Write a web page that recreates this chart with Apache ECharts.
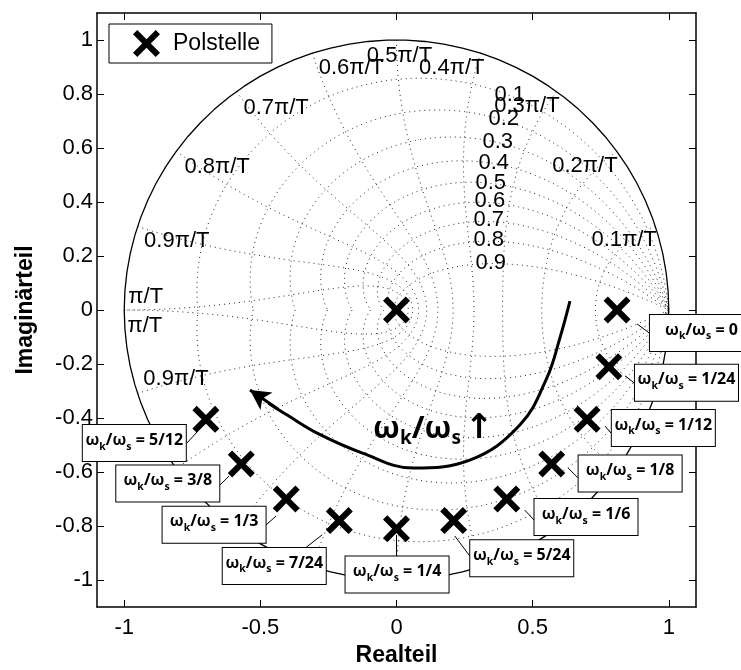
<!DOCTYPE html>
<html><head><meta charset="utf-8">
<script src="https://cdn.jsdelivr.net/npm/echarts@6/dist/echarts.min.js"></script>
<style>html,body{margin:0;padding:0;background:#fff}#c{width:741px;height:670px}</style>
</head><body><div id="c"></div><script>
// ---- axis ticks ----
const xTicks = [-1, -0.5, 0, 0.5, 1];
const yTicks = [-1, -0.8, -0.6, -0.4, -0.2, 0, 0.2, 0.4, 0.6, 0.8, 1];
// ---- poles (Polstelle) ----
const poleRe = [0.81, 0.78, 0.70, 0.57, 0.405, 0.21, 0, -0.21, -0.405, -0.57, -0.70, 0];
const poleIm = [0, -0.21, -0.405, -0.57, -0.70, -0.78, -0.81, -0.78, -0.70, -0.57, -0.405, 0];
const ratioLabels = ['0', '1/24', '1/12', '1/8', '1/6', '5/24', '1/4', '7/24', '1/3', '3/8', '5/12'];
// ---- zgrid parameters ----
const zetaValues = [0.1, 0.2, 0.3, 0.4, 0.5, 0.6, 0.7, 0.8, 0.9];
const wnValues = [0.1, 0.2, 0.3, 0.4, 0.5, 0.6, 0.7, 0.8, 0.9, 1.0]; // x pi/T
const zetaLabels = ['0.1', '0.2', '0.3', '0.4', '0.5', '0.6', '0.7', '0.8', '0.9'];
const wnLabels = ['0.1π/T', '0.2π/T', '0.3π/T', '0.4π/T', '0.5π/T', '0.6π/T', '0.7π/T', '0.8π/T', '0.9π/T', 'π/T', 'π/T', '0.9π/T'];
// ---- hand-drawn arrow curve ----
const arrowRe = [0.637, 0.60, 0.552, 0.453, 0.269, 0.06, -0.125, -0.284, -0.40, -0.47];
const arrowIm = [0.033, -0.104, -0.252, -0.426, -0.556, -0.585, -0.53, -0.46, -0.39, -0.345];
const arrowHeadFrom = [-0.44, -0.364];
const arrowHeadTo = [-0.538, -0.296];

// ---- annotation layout (data coordinates) ----
const boxRe = [1.120, 1.065, 0.980, 0.858, 0.696, 0.460, 0.002, -0.449, -0.670, -0.840, -0.963];
const boxIm = [-0.085, -0.269, -0.437, -0.606, -0.767, -0.919, -0.980, -0.948, -0.795, -0.643, -0.493];
const leadFromRe = [0.884, 0.840, 0.766, 0.630, 0.471, 0.214, 0, -0.273, -0.442, -0.615, -0.729];
const leadFromIm = [-0.052, -0.244, -0.430, -0.585, -0.741, -0.837, -0.833, -0.833, -0.763, -0.615, -0.448];
const leadToRe = [0.928, 0.873, 0.788, 0.667, 0.505, 0.269, 0, -0.331, -0.479, -0.648, -0.770];
const leadToIm = [-0.085, -0.270, -0.456, -0.622, -0.778, -0.911, -0.911, -0.878, -0.796, -0.648, -0.493];
const zetaLabRe = [0.416, 0.394, 0.372, 0.357, 0.346, 0.343, 0.339, 0.339, 0.346];
const zetaLabIm = [0.796, 0.707, 0.622, 0.544, 0.470, 0.404, 0.333, 0.259, 0.174];
const wnLabRe = [0.836, 0.692, 0.479, 0.203, 0.011, -0.166, -0.442, -0.659, -0.807, -0.921, -0.924, -0.810];
const wnLabIm = [0.259, 0.533, 0.756, 0.896, 0.941, 0.896, 0.748, 0.530, 0.256, 0.048, -0.059, -0.256];
const textPos = [0.135, -0.44];

const FONT = 'Liberation Sans';
const XPATH = 'path://M0,16L16,0L50,34L84,0L100,16L66,50L100,84L84,100L50,66L16,100L0,84L34,50Z';
const CLEAR = { color: 'rgba(0,0,0,0)', opacity: 1 };

// zgrid curves (geometry of the grid, from its parameters)
function zetaCurve(z) {
  const pts = [], N = 400, k = z / Math.sqrt(1 - z * z);
  for (let i = 0; i <= N; i++) {
    const th = -Math.PI + 2 * Math.PI * i / N;
    const r = Math.exp(-k * Math.abs(th));
    pts.push([r * Math.cos(th), r * Math.sin(th)]);
  }
  return pts;
}
function wnCurve(w) {
  const pts = [], N = 200, wt = w * Math.PI;
  for (let i = 0; i <= N; i++) {
    const phi = Math.PI / 2 - Math.PI * i / N;
    const re = -wt * Math.cos(phi), im = wt * Math.sin(phi);
    const r = Math.exp(re);
    pts.push([r * Math.cos(im), r * Math.sin(im)]);
  }
  return pts;
}
function unitCircle() {
  const pts = [], N = 90;
  for (let i = 0; i <= N; i++) {
    const t = 2 * Math.PI * i / N;
    pts.push([Math.cos(t), Math.sin(t)]);
  }
  return pts;
}

const series = [];
const dotStyle = { color: '#000', width: 1, type: [1, 4], opacity: 0.85 };
zetaValues.forEach(z => series.push({ type: 'line', name: 'grid', data: zetaCurve(z), showSymbol: false, lineStyle: dotStyle, silent: true, z: 1 }));
wnValues.forEach(w => series.push({ type: 'line', name: 'grid', data: wnCurve(w), showSymbol: false, lineStyle: dotStyle, silent: true, z: 1 }));
series.push({ type: 'line', name: 'circle', data: unitCircle(), showSymbol: false, lineStyle: { color: '#000', width: 1.3 }, silent: true, z: 2 });

// grid labels
const zl = zetaLabels.map((t, i) => ({ value: [zetaLabRe[i], zetaLabIm[i]], name: t }));
const wl = wnLabels.map((t, i) => ({ value: [wnLabRe[i], wnLabIm[i]], name: t }));
series.push({
  type: 'scatter', name: 'gridlabels', data: zl.concat(wl), symbolSize: 1, itemStyle: CLEAR, silent: true, z: 3, clip: false,
  label: { show: true, position: 'inside', formatter: '{b}', fontFamily: FONT, fontSize: 22, color: '#000' }
});

// arrow curve
series.push({
  type: 'line', name: 'arrow', smooth: 0.4, showSymbol: false, silent: true, z: 4,
  data: arrowRe.map((x, i) => [x, arrowIm[i]]),
  lineStyle: { color: '#000', width: 3 },
  markLine: {
    silent: true, symbol: ['none', 'arrow'], symbolSize: [16, 20], animation: false,
    lineStyle: { color: '#000', width: 3, type: 'solid' }, label: { show: false },
    data: [[{ coord: arrowHeadFrom }, { coord: arrowHeadTo }]]
  }
});
series.push({
  type: 'scatter', name: 'annot', silent: true, z: 5, symbolSize: 1, itemStyle: CLEAR,
  data: [{ value: textPos }],
  label: {
    show: true, position: 'inside',
    formatter: '{b|ω}{s|k}{b|/ω}{s|s}{g| }{a|↑}',
    rich: {
      b: { fontFamily: 'Noto Sans', fontWeight: 'bold', fontSize: 31, color: '#000', lineHeight: 38 },
      s: { fontFamily: 'Noto Sans', fontWeight: 'bold', fontSize: 19, color: '#000', verticalAlign: 'bottom' },
      g: { fontSize: 14, lineHeight: 38 },
      a: { fontFamily: 'DejaVu Sans', fontWeight: 'bold', fontSize: 34, color: '#000', lineHeight: 38 }
    }
  }
});

// leader lines
ratioLabels.forEach((t, i) => series.push({
  type: 'line', name: 'leader', showSymbol: false, silent: true, z: 6,
  data: [[leadFromRe[i], leadFromIm[i]], [leadToRe[i], leadToIm[i]]],
  lineStyle: { color: '#000', width: 1 }
}));

// poles
series.push({
  type: 'scatter', name: 'Polstelle', symbol: XPATH, symbolSize: 27, z: 7,
  itemStyle: { color: '#000', opacity: 1 },
  data: poleRe.map((x, i) => [x, poleIm[i]])
});

// label boxes
series.push({
  type: 'scatter', name: 'boxes', silent: true, z: 10, symbolSize: 1, itemStyle: CLEAR, clip: false,
  data: ratioLabels.map((t, i) => ({ value: [boxRe[i], boxIm[i]], name: t })),
  label: {
    show: true, position: 'inside',
    formatter: p => '{t|ω}{s|k}{t|/ω}{s|s}{t| = ' + p.name + '}',
    backgroundColor: '#fff', borderColor: '#000', borderWidth: 1,
    width: 95, height: 30, padding: [3, 4], align: 'center', verticalAlign: 'middle',
    rich: {
      t: { fontFamily: 'Noto Sans', fontWeight: 'bold', fontSize: 16, color: '#000', lineHeight: 24 },
      s: { fontFamily: 'Noto Sans', fontWeight: 'bold', fontSize: 10.5, color: '#000', verticalAlign: 'bottom' }
    }
  }
});

function axisCommon(ticks, showLabel) {
  return {
    type: 'value', min: -1.1, max: 1.1,
    axisLine: { show: true, onZero: false, lineStyle: { color: '#000', width: 1.5 } },
    axisTick: { show: true, inside: true, length: 7, customValues: ticks, lineStyle: { color: '#000', width: 1 } },
    axisLabel: { show: showLabel, customValues: ticks, formatter: v => String(v), fontFamily: FONT, fontSize: 22, color: '#000' },
    splitLine: { show: false }
  };
}
const xb = axisCommon(xTicks, true);
Object.assign(xb, { position: 'bottom', name: 'Realteil', nameLocation: 'middle', nameGap: 37,
  nameTextStyle: { fontFamily: FONT, fontSize: 23, fontWeight: 'bold', color: '#000' } });
xb.axisLabel.margin = 10;
const xt = axisCommon(xTicks, false); xt.position = 'top';
const yl = axisCommon(yTicks, true);
Object.assign(yl, { position: 'left', name: 'Imaginärteil', nameLocation: 'middle', nameGap: 60, nameRotate: 90,
  nameTextStyle: { fontFamily: FONT, fontSize: 23, fontWeight: 'bold', color: '#000' } });
yl.axisLabel.margin = 4;
const yr = axisCommon(yTicks, false); yr.position = 'right';

series.forEach(s => { s.animation = false; s.xAxisIndex = 0; s.yAxisIndex = 0; });

const chart = echarts.init(document.getElementById('c'), null, { renderer: 'canvas' });
chart.setOption({
  animation: false,
  backgroundColor: '#fff',
  grid: { left: 97, right: 45, top: 13, bottom: 63, containLabel: false, outerBoundsMode: 'none' },
  xAxis: [xb, xt],
  yAxis: [yl, yr],
  legend: {
    data: [{ name: 'Polstelle', icon: XPATH, itemStyle: { color: '#000', opacity: 1 } }],
    left: 109, top: 24, orient: 'horizontal',
    padding: [6, 12, 6, 24], itemWidth: 27, itemHeight: 27,
    backgroundColor: '#fff', borderColor: '#000', borderWidth: 1,
    textStyle: { fontFamily: FONT, fontSize: 23, color: '#000', padding: [0, 0, 0, 8] },
    selectedMode: false
  },
  series: series
});
</script></body></html>
